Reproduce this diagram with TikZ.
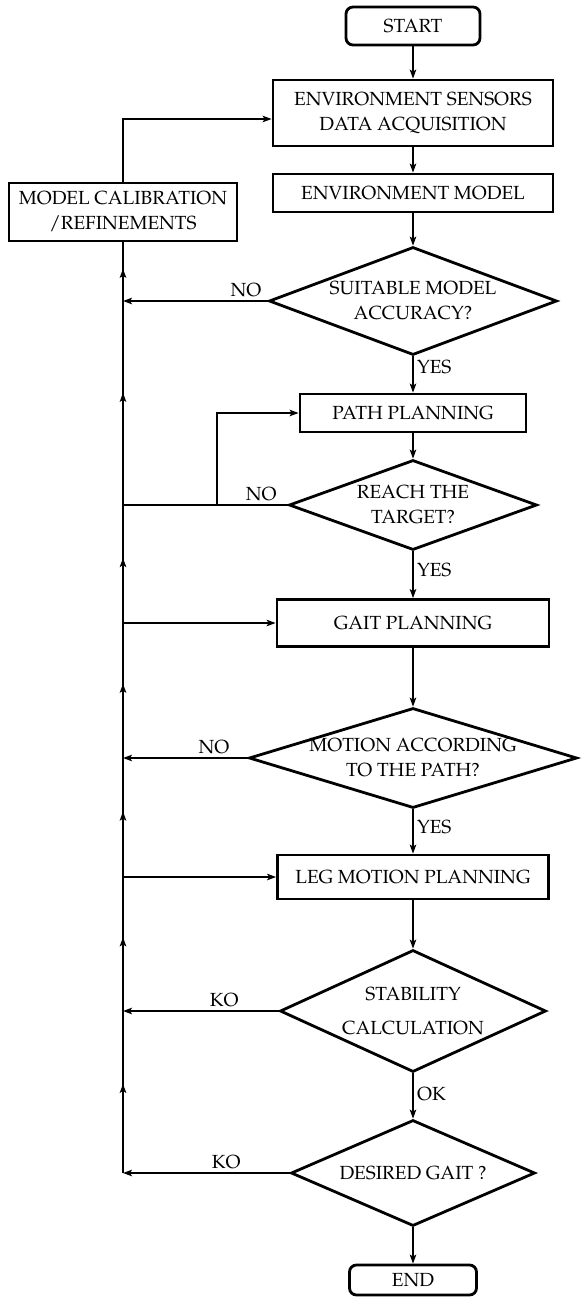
\documentclass[tikz,border=0pt]{standalone}
\usepackage[T1]{fontenc}
\renewcommand{\rmdefault}{ppl}
\usepackage{tikz}
\usetikzlibrary{positioning, shapes.geometric, arrows.meta, decorations.markings}

\begin{document}
\begin{tikzpicture}[x=1pt, y=-1pt,
    >={Stealth[length=9pt, width=6.5pt, inset=2pt]},
    every node/.style={font=\fontsize{19}{25}\selectfont},
    block/.style={draw, rectangle, line width=2.8pt, minimum height=38pt},
    term/.style={block, rounded corners=7pt},
    decision/.style={draw, diamond, line width=2.8pt, inner sep=0pt},
    flow/.style={->, line width=1.5pt},
    busarrow/.style={line width=1.6pt, postaction={decorate},
        decoration={markings, mark=at position 0.55 with {\arrow{>}}}}]
    \useasboundingbox (0,0) rectangle (583,1298);

    % Start and sensing
    \node[term, minimum width=134pt] (start) at (413,26) {START};
    \node[block, minimum width=280pt, minimum height=66pt, align=center] (sensors) at (413,113) {ENVIRONMENT SENSORS\\DATA ACQUISITION};
    \node[block, minimum width=280pt] (envmodel) at (413,193) {ENVIRONMENT MODEL};
    \node[block, minimum width=228pt, minimum height=58pt, align=center] (calib) at (123,212) {MODEL CALIBRATION\\/REFINEMENTS};

    % Model check
    \node[decision, minimum width=288pt, minimum height=108pt] (suitable) at (413,301) {};
    \node[align=center] (suitableT) at (suitable) {SUITABLE MODEL\\ACCURACY?};

    % Path
    \node[block, minimum width=226pt] (path) at (413,413) {PATH PLANNING};
    \node[decision, minimum width=248pt, minimum height=90pt] (reach) at (413,505) {};
    \node[align=center] (reachT) at (reach) {REACH THE\\TARGET?};

    % Gait
    \node[block, minimum width=272pt, minimum height=47pt] (gait) at (413,623) {GAIT PLANNING};
    \node[decision, minimum width=328pt, minimum height=100pt] (motion) at (413,758) {};
    \node[align=center] (motionT) at (motion) {MOTION ACCORDING\\TO THE PATH?};

    % Legs
    \node[block, minimum width=271pt, minimum height=44pt] (leg) at (413,877) {LEG MOTION PLANNING};
    \node[decision, minimum width=266pt, minimum height=122pt] (stability) at (413,1011) {};
    \node[align=center] (stabilityT) at (stability) {STABILITY\\[9pt]CALCULATION};
    \node[decision, minimum width=244pt, minimum height=106pt] (desired) at (413,1173) {};
    \node (desiredT) at (desired) {DESIRED GAIT ?};
    \node[term, minimum width=127pt, minimum height=30pt] (end) at (413,1280) {END};

    % Main flow
    \draw[flow] (start) -- (sensors);
    \draw[flow] (sensors) -- (envmodel);
    \draw[flow] (envmodel) -- (suitable);
    \draw[flow] (suitable) -- node[right, pos=0.3] {YES} (path);
    \draw[flow] (path) -- (reach);
    \draw[flow] (reach) -- node[right, pos=0.4] {YES} (gait);
    \draw[flow] (gait) -- (motion);
    \draw[flow] (motion) -- node[right, pos=0.4] {YES} (leg);
    \draw[flow] (leg) -- (stability);
    \draw[flow] (stability) -- node[right, pos=0.45] {OK} (desired);
    \draw[flow] (desired) -- (end);

    % Failures back to the left bus
    \draw[flow] (suitable.west) -- node[above, pos=0.15] {NO} (calib.south |- suitable.west);
    \draw[line width=1.5pt] (reach.west) -- node[above, pos=0.16] {NO} (calib.south |- reach.west);
    \draw[flow] (motion.west) -- node[above, pos=0.27] {NO} (calib.south |- motion.west);
    \draw[flow] (stability.west) -- node[above, pos=0.35] {KO} (calib.south |- stability.west);
    \draw[flow] (desired.west) -- node[above, pos=0.38] {KO} (calib.south |- desired.west);

    % Bus up to calibration
    \foreach \lo/\hi in {desired/stability, stability/leg, leg/motion, motion/gait, gait/reach, reach/suitable}
        \draw[busarrow] (calib.south |- \lo.west) -- (calib.south |- \hi.west);
    \draw[busarrow] (calib.south |- suitable.west) -- (calib.south);

    % Re-entries
    \draw[flow] (calib.south |- gait.west) -- (gait.west);
    \draw[flow] (calib.south |- leg.west) -- (leg.west);
    \coordinate (split) at (217,0);
    \draw[flow] (split |- reach.west) |- (path.west);
    \draw[flow] (calib.north) |- ([yshift=-6pt]sensors.west);
\end{tikzpicture}
\end{document}
